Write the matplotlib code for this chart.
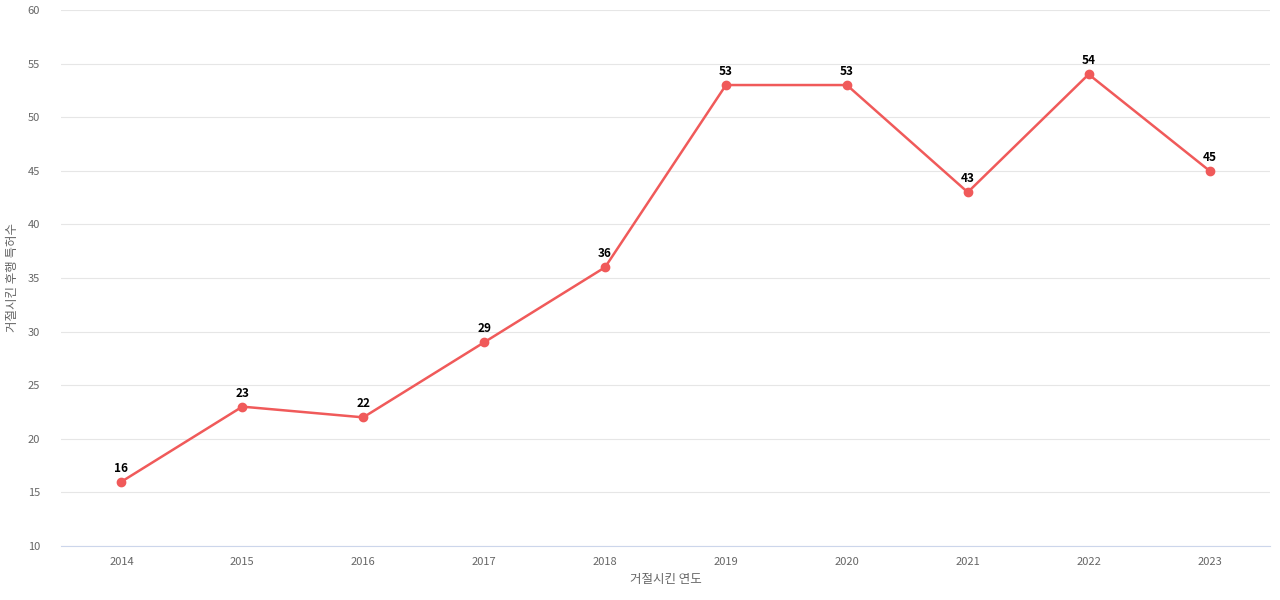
import matplotlib
matplotlib.use("Agg")
import matplotlib.pyplot as plt

plt.rcParams['font.family'] = ['Noto Sans CJK KR', 'DejaVu Sans']

years = ["2014", "2015", "2016", "2017", "2018", "2019", "2020", "2021", "2022", "2023"]
counts = [16, 23, 22, 29, 36, 53, 53, 43, 54, 45]

fig = plt.figure(figsize=(12.8, 6), dpi=100)
ax = fig.add_axes([61 / 1280, 54 / 600, 1209 / 1280, 536 / 600])

xs = list(range(len(years)))
ax.plot(xs, counts, color="#f05a5a", lw=1.8, marker="o", ms=6, zorder=3)
for x, v in zip(xs, counts):
    ax.annotate(str(v), (x, v), xytext=(0, 5), textcoords="offset points",
                ha="center", va="bottom", fontsize=8.5, fontweight="bold")

ax.set_xlim(-0.5, len(years) - 0.5)
ax.set_ylim(10, 60)
ax.set_yticks(range(10, 61, 5))
ax.set_xticks(xs)
ax.set_xticklabels(years)
ax.grid(axis="y", color="#e6e6e6", lw=0.8)
ax.set_axisbelow(True)
for s in ["top", "right", "left"]:
    ax.spines[s].set_visible(False)
ax.spines["bottom"].set_color("#ccd6eb")
ax.tick_params(length=0, colors="#666666", labelsize=8)
ax.tick_params(axis="y", pad=15)
ax.tick_params(axis="x", pad=8)
ax.set_xlabel("거절시킨 연도", color="#666666", fontsize=9, labelpad=4)
ax.set_ylabel("거절시킨 후행 특허수", color="#666666", fontsize=9, labelpad=6)

fig.savefig("out.png")
